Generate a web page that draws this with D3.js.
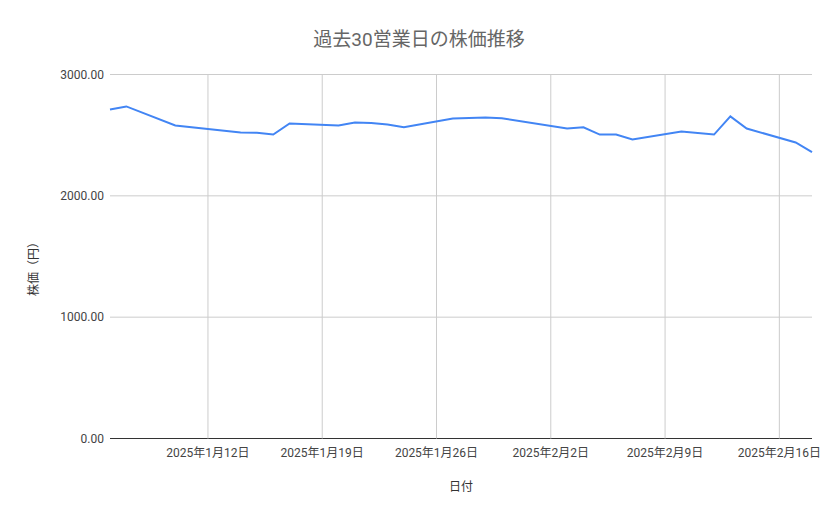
<!DOCTYPE html><html><head><meta charset="utf-8">
<script src="https://cdn.jsdelivr.net/npm/d3@7"></script>
<style>body{margin:0;background:#fff;font-family:Roboto,"Noto Sans CJK JP",sans-serif}</style></head><body>
<svg id="c" width="839" height="519"></svg>
<script>
const dates=["2025-01-06","2025-01-07","2025-01-10","2025-01-14","2025-01-15","2025-01-16","2025-01-17","2025-01-20","2025-01-21","2025-01-22","2025-01-23","2025-01-24","2025-01-27","2025-01-28","2025-01-29","2025-01-30","2025-02-03","2025-02-04","2025-02-05","2025-02-06","2025-02-07","2025-02-10","2025-02-12","2025-02-13","2025-02-14","2025-02-17","2025-02-18"];
const prices=[2712,2737,2580,2522,2520,2505,2597,2580,2605,2600,2588,2565,2638,2642,2646,2640,2555,2565,2505,2505,2465,2530,2505,2655,2555,2440,2360];
const yTicks=[0,1000,2000,3000];
const xTicks=["2025-01-12","2025-01-19","2025-01-26","2025-02-02","2025-02-09","2025-02-16"];
const p=d3.timeParse("%Y-%m-%d");
const svg=d3.select("#c");
const L=110,R=812,T=74.5,B=438.5;
const x=d3.scaleTime().domain([p("2025-01-06"),p("2025-02-18")]).range([L,R]);
const y=d3.scaleLinear().domain([0,3000]).range([B,T]);
const g=svg.append("g");
g.selectAll(".hg").data(yTicks).join("line").attr("x1",L).attr("x2",R).attr("y1",d=>y(d)).attr("y2",d=>y(d)).attr("stroke",d=>d===0?"#333":"#ccc").attr("stroke-width",1);
g.selectAll(".vg").data(xTicks).join("line").attr("x1",d=>x(p(d))).attr("x2",d=>x(p(d))).attr("y1",T).attr("y2",B).attr("stroke","#ccc");
g.selectAll(".yl").data(yTicks).join("text").attr("x",L-6).attr("y",d=>y(d)+4).attr("text-anchor","end").attr("font-size",12).attr("fill","#444").text(d=>d.toFixed(2));
g.selectAll(".xl").data(xTicks).join("text").attr("x",d=>x(p(d))).attr("y",457).attr("text-anchor","middle").attr("font-size",12).attr("fill","#444").text(d=>{const t=p(d);return `${t.getFullYear()}年${t.getMonth()+1}月${t.getDate()}日`;});
svg.append("path").datum(dates.map((d,i)=>[p(d),prices[i]])).attr("fill","none").attr("stroke","#4285f4").attr("stroke-width",2)
 .attr("d",d3.line().x(d=>x(d[0])).y(d=>y(d[1])));
svg.append("text").attr("x",419).attr("y",46).attr("text-anchor","middle").attr("font-size",19).attr("fill","#666").text("過去30営業日の株価推移");
svg.append("text").attr("x",461).attr("y",491).attr("text-anchor","middle").attr("font-size",12).attr("fill","#333").text("日付");
svg.append("text").attr("transform","translate(38,266) rotate(-90)").attr("text-anchor","middle").attr("font-size",12).attr("fill","#333").text("株価（円）");
</script></body></html>
